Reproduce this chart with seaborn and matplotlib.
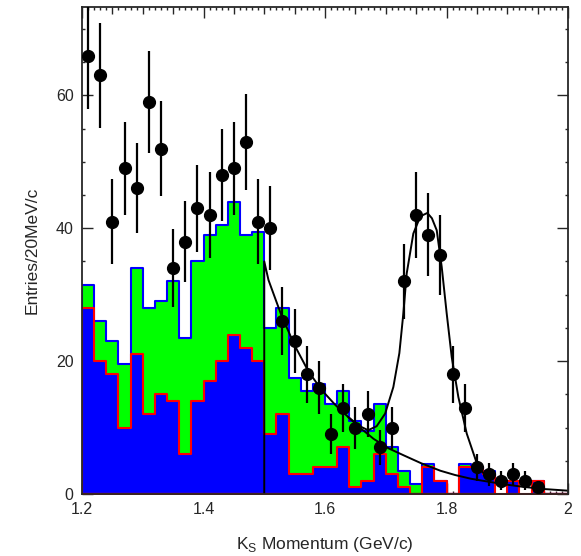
import numpy as np
import pandas as pd
import matplotlib
matplotlib.use("Agg")
import matplotlib.pyplot as plt
from matplotlib.ticker import MultipleLocator, FuncFormatter
import seaborn as sns

# binning: 20 MeV/c bins from 1.2 to 2.0 GeV/c
n_bins = 40
p_range = (1.2, 2.0)
bin_centers = np.round(np.arange(1.21, 2.0, 0.02), 2)

# data points (bin centres 1.21 ... 1.95)
data_x = bin_centers[:38]
data_y = [66, 63, 41, 49, 46, 59, 52, 34, 38, 43, 42, 48, 49, 53, 41,
          40, 26, 23, 18, 16, 9, 13, 10, 12, 7, 10, 32, 42, 39, 36,
          18, 13, 4, 3, 2, 3, 2, 1]

# stacked histograms
total_hist = [31.5, 26, 23, 19.5, 34, 28, 29, 32, 23.5, 35,
              39, 40.5, 44, 39, 39.5, 25, 28, 17.5, 15.5, 16.5,
              13.5, 15.5, 11, 9.5, 13.5, 7, 3.5, 1.5, 4.5, 2,
              0, 4.5, 4, 3.5, 0, 2, 0, 2, 0, 0]
comp_hist = [28, 20, 18, 10, 21, 12, 15, 14, 6, 14,
             17, 20, 24, 22, 20, 9, 12, 3, 3, 4,
             4, 7, 1, 2, 6, 3, 1, 0, 4, 2,
             0, 4, 4, 3, 0, 2, 0, 2, 0, 0]
empty_hist = [0] * 34 + [2, 0, 2, 0, 0, 0]

# fitted background curve
bkg_x = [1.5, 1.5, 1.507, 1.529, 1.551, 1.573, 1.595, 1.617, 1.638, 1.66, 1.68,
         1.704, 1.73, 1.759, 1.79, 1.814, 1.84, 1.869, 1.9, 1.924, 1.96, 2.0]
bkg_y = [0, 35, 32.2, 26.7, 22.2, 18.4, 15.6, 13.4, 11.6, 9.8, 8.3,
         6.9, 5.8, 4.6, 3.5, 2.86, 2.3, 1.85, 1.4, 1.1, 0.75, 0.5]

# signal + background curve
fit_x = [1.638, 1.655, 1.671, 1.685, 1.699, 1.7125, 1.7224, 1.729, 1.7345, 1.7454,
         1.757, 1.7685, 1.776, 1.7839, 1.7921, 1.8003, 1.8086, 1.8195, 1.8333,
         1.8507, 1.87]
fit_y = [11.6, 10.3, 9.6, 10.2, 12.1, 16.1, 21.2, 27.2, 33.2, 39.2,
         41.8, 42.3, 41.5, 39.7, 34.2, 27.2, 20.6, 14.6, 9.1,
         4.4, 2.0]

sns.set_style("ticks")
plt.rcParams["font.family"] = ["Liberation Sans", "DejaVu Sans"]

fig = plt.figure(figsize=(5.81, 5.56), dpi=100)
ax = fig.add_axes([82 / 581, 62 / 556, 486 / 581, 487 / 556])

hist_df = pd.DataFrame({"p": bin_centers, "total": total_hist,
                        "comp": comp_hist, "empty": empty_hist})
for col, fc, ec in [("total", "#00ff00", "#0000ff"),
                    ("comp", "#0000ff", "#ff0000"),
                    ("empty", "white", "#ff0000")]:
    sub = hist_df[hist_df[col] > 0]
    sns.histplot(data=sub, x="p", weights=col, bins=n_bins, binrange=p_range,
                 element="step", fill=True, color=fc, edgecolor=ec, alpha=1,
                 linewidth=1.5, ax=ax)

sns.lineplot(x=bkg_x, y=bkg_y, sort=False, estimator=None, color="black", lw=1.4, ax=ax)
sns.lineplot(x=fit_x, y=fit_y, sort=False, estimator=None, color="black", lw=1.4, ax=ax)

ax.errorbar(data_x, data_y, yerr=np.sqrt(data_y), fmt="o", color="black",
            ms=8.5, elinewidth=1.6, capsize=0, zorder=5)

ax.set_xlim(*p_range)
ax.set_ylim(0, 73.3)
ax.xaxis.set_major_locator(MultipleLocator(0.05))
ax.xaxis.set_minor_locator(MultipleLocator(0.01))
ax.yaxis.set_major_locator(MultipleLocator(20))
ax.yaxis.set_minor_locator(MultipleLocator(5))


def xfmt(v, pos):
    if abs(v * 5 - round(v * 5)) < 1e-6:
        return "2" if abs(v - 2) < 1e-6 else f"{v:.1f}"
    return ""


ax.xaxis.set_major_formatter(FuncFormatter(xfmt))
ax.tick_params(which="both", direction="in", top=True, right=True, width=1,
               labelsize=11.5, pad=6)
ax.tick_params(which="major", length=5)
ax.tick_params(which="minor", length=2.5)
ax.tick_params(axis="y", which="major", length=8)
for tk, loc in zip(ax.xaxis.get_major_ticks(), ax.xaxis.get_majorticklocs()):
    if abs(loc * 5 - round(loc * 5)) < 1e-6:
        tk.tick1line.set_markersize(8)
        tk.tick2line.set_markersize(8)
for s in ax.spines.values():
    s.set_linewidth(1.3)

ax.set_xlabel("K$_\\mathregular{S}$ Momentum (GeV/c)", fontsize=12.5, labelpad=13)
ax.set_ylabel("Entries/20MeV/c", fontsize=12.5, labelpad=12)

fig.savefig("out.png", dpi=100)
